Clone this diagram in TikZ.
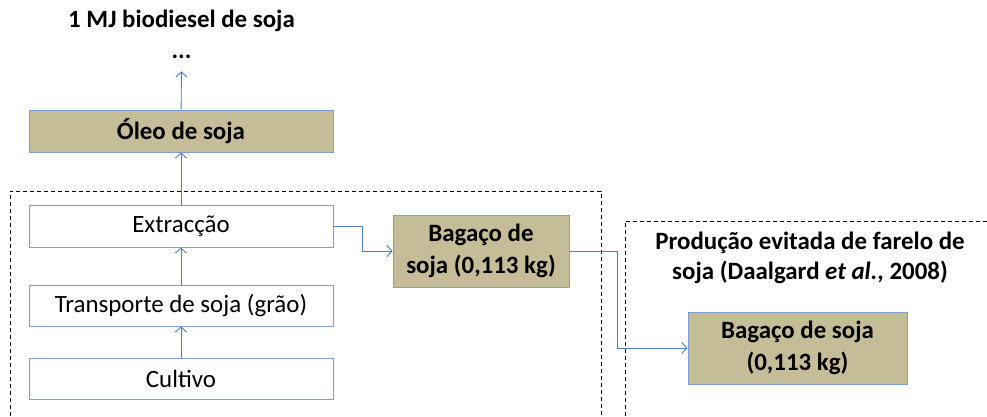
\documentclass[tikz,border=0pt]{standalone}
\usepackage{fontspec}
\setmainfont{Carlito}
\usepackage{tikz}
\usetikzlibrary{arrows.meta}
\definecolor{tanfill}{HTML}{C4BD97}
\definecolor{boxline}{HTML}{7F9FD3}
\definecolor{flowline}{HTML}{4A7EC0}

\begin{document}
\begin{tikzpicture}[x=1bp, y=-1bp,
  procbox/.style={draw=boxline, fill=white, line width=0.9bp, minimum width=304bp, minimum height=42bp, font=\fontsize{25}{31}\selectfont},
  prodbox/.style={draw=boxline, fill=tanfill, line width=0.9bp, align=center, font=\bfseries\fontsize{25}{32}\selectfont},
  headtext/.style={align=center, font=\bfseries\fontsize{25}{30}\selectfont},
  flow/.style={draw=flowline, line width=0.9bp, -{Straight Barb[length=5bp, width=11bp]}},
  limit/.style={draw=black, line width=0.9bp, dash pattern=on 4bp off 3bp}]
\useasboundingbox (0,0) rectangle (987,416);
%\draw[help lines, step=50] (0,0) grid (987,416);

% system borders (open at bottom / right)
\draw[limit] (10,430) -- (10,191) -- (601,191) -- (601,430);
\draw[limit] (625,430) -- (625,221) -- (1000,221);

% upstream chain
\node[headtext, anchor=base] (title) at (181.5,27) {1 MJ biodiesel de soja};
\node[font=\bfseries\fontsize{25}{30}\selectfont, inner ysep=0, anchor=base] (dots) at (181.5,58) {...};
\node[prodbox, minimum width=304bp, minimum height=42bp] (oleo) at (181,131) {Óleo de soja};

% processes
\node[procbox] (extr) at (181,226) {Extracção};
\node[procbox, minimum height=41bp] (transp) at (181,305.5) {Transporte de soja (grão)};
\node[procbox, minimum height=41bp] (cult) at (181,378.5) {Cultivo};

% co-product and avoided product
\node[prodbox, minimum width=176bp, minimum height=72bp] (bag) at (481,251) {Bagaço de\\soja (0,113 kg)};
\node[headtext] (evit) at (810,258) {Produção evitada de farelo de\\soja (Daalgard \textit{et al.}, 2008)};
\node[prodbox, minimum width=219bp, minimum height=72bp] (bagevit) at (797.5,348) {Bagaço de soja\\(0,113 kg)};

% arrows
\draw[flow] (cult) -- (transp);
\draw[flow] (transp) -- (extr);
\draw[flow] (extr) -- (oleo);
\draw[flow, shorten >=13bp] (oleo) -- (dots.south);
\draw[flow] (extr.east) -- ++(29,0) |- (bag.west);
\draw[flow] (bag.east) -- ++(48,0) |- (bagevit.west);
\end{tikzpicture}
\end{document}
